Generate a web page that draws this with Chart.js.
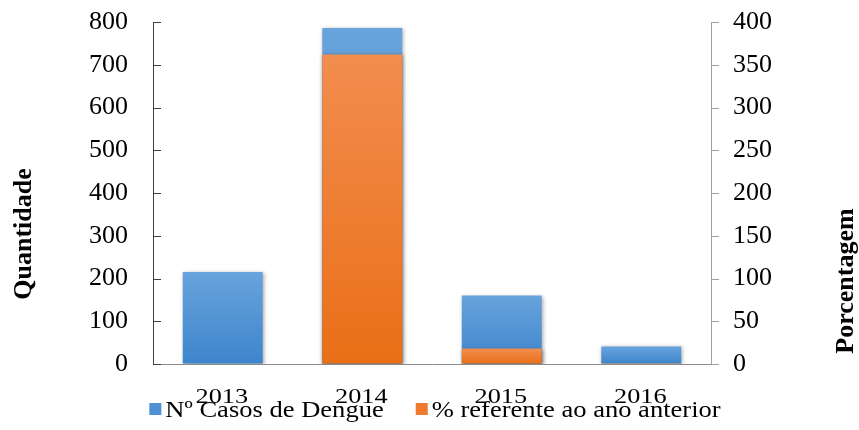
<!DOCTYPE html>
<html>
<head>
<meta charset="utf-8">
<script src="https://cdn.jsdelivr.net/npm/chart.js@4.4.1/dist/chart.umd.min.js"></script>
<style>
  body { margin: 0; background: #fff; }
  #wrap { width: 859px; height: 430px; }
</style>
</head>
<body>
<div id="wrap"><canvas id="dengueChart" width="859" height="430"></canvas></div>
<script>
// Data
const anos = ["2013", "2014", "2015", "2016"];
const casosDengue = [215, 786, 160, 41];
const percentAnoAnterior = [null, 362, 18, 1];
const ticksQuantidade = [0, 100, 200, 300, 400, 500, 600, 700, 800];
const ticksPorcentagem = [0, 50, 100, 150, 200, 250, 300, 350, 400];

const serif = "'Liberation Serif', 'Times New Roman', serif";

// colours (top / bottom of each bar gradient)
const azul = { top: "#68a3dc", bottom: "#3d85cc", solid: "#4f91d4" };
const laranja = { top: "#f28d4f", bottom: "#ea6f17", solid: "#ee7b2e" };

function barFill(colors) {
    return (c) => {
        const chart = c.chart;
        if (!chart.chartArea || c.type !== "data" || c.raw == null) return colors.solid;
        const scale = chart.scales[c.dataset.yAxisID];
        const yTop = scale.getPixelForValue(c.raw);
        const yBot = scale.getPixelForValue(0);
        if (yBot - yTop < 1) return colors.bottom;
        const g = chart.ctx.createLinearGradient(0, yTop, 0, yBot);
        g.addColorStop(0, colors.top);
        g.addColorStop(1, colors.bottom);
        return g;
    };
}

// soft shadow behind bars
const barShadow = {
    id: "barShadow",
    beforeDatasetsDraw(chart) {
        const ctx = chart.ctx;
        ctx.save();
        ctx.shadowColor = "rgba(0,0,0,0.35)";
        ctx.shadowBlur = 4;
        ctx.shadowOffsetX = 1;
        ctx.shadowOffsetY = 1;
    },
    afterDatasetsDraw(chart) {
        chart.ctx.restore();
    }
};

// short tick marks: inside for left axis, outside for right axis
const tickMarks = {
    id: "tickMarks",
    afterDraw(chart) {
        const ctx = chart.ctx;
        const yl = chart.scales.yQtd;
        const yr = chart.scales.yPct;
        ctx.save();
        ctx.lineWidth = 1;
        ctx.strokeStyle = "#404040";
        yl.ticks.forEach((t) => {
            const y = Math.round(yl.getPixelForValue(t.value)) + 0.5;
            ctx.beginPath();
            ctx.moveTo(yl.right, y);
            ctx.lineTo(yl.right + 8, y);
            ctx.stroke();
        });
        ctx.strokeStyle = "#a0a0a0";
        yr.ticks.forEach((t) => {
            const y = Math.round(yr.getPixelForValue(t.value)) + 0.5;
            ctx.beginPath();
            ctx.moveTo(yr.left, y);
            ctx.lineTo(yr.left + 8, y);
            ctx.stroke();
        });
        ctx.restore();
    }
};

// category labels: smaller, horizontally wide serif like the original
const yearLabels = {
    id: "yearLabels",
    afterDraw(chart) {
        const ctx = chart.ctx;
        const xs = chart.scales.x;
        const stretch = 1.25;
        ctx.save();
        ctx.font = "21px " + serif;
        ctx.fillStyle = "#000";
        ctx.textAlign = "center";
        ctx.textBaseline = "alphabetic";
        chart.data.labels.forEach((lab, i) => {
            ctx.save();
            ctx.translate(xs.getPixelForTick(i) - 1, 403);
            ctx.scale(stretch, 1);
            ctx.fillText(lab, 0, 0);
            ctx.restore();
        });
        ctx.restore();
    }
};

// axis titles placed as in the original figure
const axisTitles = {
    id: "axisTitles",
    afterDraw(chart) {
        const ctx = chart.ctx;
        ctx.save();
        ctx.font = "bold 26px " + serif;
        ctx.fillStyle = "#000";
        ctx.textAlign = "center";
        ctx.textBaseline = "middle";
        ctx.translate(24, 234);
        ctx.rotate(-Math.PI / 2);
        ctx.fillText("Quantidade", 0, 0);
        ctx.restore();

        ctx.save();
        ctx.font = "bold 26px " + serif;
        ctx.fillStyle = "#000";
        ctx.textAlign = "center";
        ctx.textBaseline = "middle";
        ctx.translate(846, 281);
        ctx.rotate(-Math.PI / 2);
        ctx.fillText("Porcentagem", 0, 0);
        ctx.restore();
    }
};

// legend below the category labels, tight spacing, text a bit wide like the original
const bottomLegend = {
    id: "bottomLegend",
    afterDraw(chart) {
        const ctx = chart.ctx;
        const sets = chart.data.datasets;
        const box = 12, gapText = 4, gapItem = 32, stretch = 1.18;
        ctx.save();
        ctx.font = "22.5px " + serif;
        ctx.textBaseline = "alphabetic";
        ctx.textAlign = "left";
        let total = 0;
        sets.forEach((ds, i) => {
            total += box + gapText + ctx.measureText(ds.label).width * stretch;
            if (i < sets.length - 1) total += gapItem;
        });
        let x = (chart.chartArea.left + chart.chartArea.right) / 2 - total / 2 + 3;
        const y = 417;
        sets.forEach((ds) => {
            ctx.fillStyle = ds.legendColor;
            ctx.fillRect(x, y - 14, box, box);
            x += box + gapText;
            ctx.save();
            ctx.translate(x, y);
            ctx.scale(stretch, 1);
            ctx.fillStyle = "#000";
            ctx.fillText(ds.label, 0, 0);
            ctx.restore();
            x += ctx.measureText(ds.label).width * stretch + gapItem;
        });
        ctx.restore();
    }
};

const ctx = document.getElementById("dengueChart").getContext("2d");
const dengueChart = new Chart(ctx, {
    type: "bar",
    data: {
        labels: anos,
        datasets: [
            {
                label: "N\u00ba Casos de Dengue",
                data: casosDengue,
                yAxisID: "yQtd",
                backgroundColor: barFill(azul),
                legendColor: azul.solid,
                order: 2,
            },
            {
                label: "% referente ao ano anterior",
                data: percentAnoAnterior,
                yAxisID: "yPct",
                backgroundColor: barFill(laranja),
                legendColor: laranja.solid,
                order: 1,
            },
        ],
    },
    options: {
        responsive: false,
        animation: false,
        layout: {
            padding: { left: 82.6, right: 80.6, top: 0, bottom: 66 },
        },
        datasets: {
            bar: {
                grouped: false,
                categoryPercentage: 1,
                barPercentage: 0.573,
                borderWidth: 0,
            },
        },
        plugins: {
            legend: { display: false },
            tooltip: { enabled: false },
        },
        scales: {
            x: {
                grid: { display: true, drawOnChartArea: false, drawTicks: false },
                border: { display: true, color: "#8c8c8c", width: 1 },
                ticks: { display: false },
            },
            yQtd: {
                position: "left",
                min: 0,
                max: 800,
                afterBuildTicks: (scale) => {
                    scale.ticks = ticksQuantidade.map((v) => ({ value: v }));
                },
                grid: {
                    display: true,
                    drawOnChartArea: false,
                    drawTicks: true,
                    tickLength: 18.6,
                    tickColor: "rgba(0,0,0,0)",
                },
                border: { display: true, color: "#404040", width: 1 },
                ticks: {
                    color: "#000",
                    padding: 6.4,
                    font: { family: serif, size: 26 },
                },
            },
            yPct: {
                position: "right",
                min: 0,
                max: 400,
                afterBuildTicks: (scale) => {
                    scale.ticks = ticksPorcentagem.map((v) => ({ value: v }));
                },
                grid: {
                    display: true,
                    drawOnChartArea: false,
                    drawTicks: true,
                    tickLength: 15.6,
                    tickColor: "rgba(0,0,0,0)",
                },
                border: { display: true, color: "#a0a0a0", width: 1 },
                ticks: {
                    color: "#000",
                    padding: 6.4,
                    font: { family: serif, size: 26 },
                },
            },
        },
    },
    plugins: [barShadow, tickMarks, yearLabels, axisTitles, bottomLegend],
});
</script>
</body>
</html>
